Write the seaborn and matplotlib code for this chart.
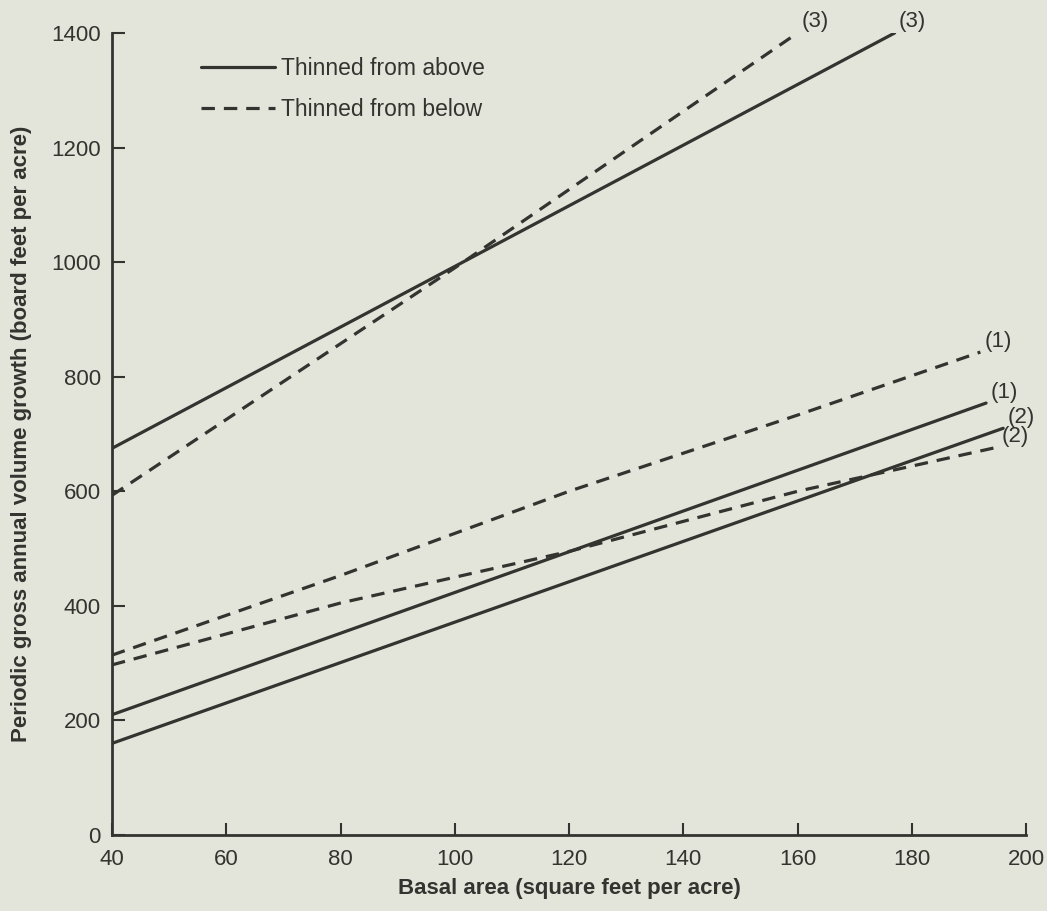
import pandas as pd
import matplotlib
matplotlib.use('Agg')
import matplotlib.pyplot as plt
import seaborn as sns
from matplotlib.lines import Line2D

# Values
above_x = {'(1)': [40, 193], '(2)': [40, 196], '(3)': [40, 177]}
above_y = {'(1)': [210, 754], '(2)': [160, 710], '(3)': [675, 1400]}
below_x = {'(1)': [40, 80, 120, 160, 192], '(2)': [40, 80, 120, 160, 195], '(3)': [40, 100, 160]}
below_y = {'(1)': [314, 453, 600, 733, 843], '(2)': [297, 405, 495, 600, 677], '(3)': [593, 990, 1400]}

x_ticks = [40, 60, 80, 100, 120, 140, 160, 180, 200]
y_ticks = [0, 200, 400, 600, 800, 1000, 1200, 1400]

bg = '#e4e5da'
ink = '#333330'
dash = (0, (4.2, 2.8))

sns.set_theme(style='ticks')
plt.rcParams['font.family'] = ['Liberation Sans', 'DejaVu Sans']

fig = plt.figure(figsize=(10.47, 9.11), dpi=100, facecolor=bg)
ax = fig.add_axes([0.107, 0.0834, 0.873, 0.8804])
ax.set_facecolor(bg)

for name in above_x:
    d = pd.DataFrame({'x': above_x[name], 'y': above_y[name]})
    sns.lineplot(data=d, x='x', y='y', ax=ax, color=ink, lw=2.3)
    ax.annotate(name, (d.x.iloc[-1], d.y.iloc[-1]), xytext=(3, 4),
                textcoords='offset points', fontsize=16, color=ink)

for name in below_x:
    d = pd.DataFrame({'x': below_x[name], 'y': below_y[name]})
    sns.lineplot(data=d, x='x', y='y', ax=ax, color=ink, lw=2.3,
                 linestyle=dash)
    ax.annotate(name, (d.x.iloc[-1], d.y.iloc[-1]), xytext=(3, 4),
                textcoords='offset points', fontsize=16, color=ink)

handles = [Line2D([], [], color=ink, lw=2.3),
           Line2D([], [], color=ink, lw=2.3, linestyle=dash)]
ax.legend(handles, ['Thinned from above', 'Thinned from below'],
          loc='upper left', bbox_to_anchor=(0.075, 0.996), frameon=False,
          fontsize=16.5, handlelength=3.2, handletextpad=0.3, labelspacing=0.8,
          labelcolor=ink)

ax.set_xlim(40, 200)
ax.set_ylim(0, 1400)
ax.set_xticks(x_ticks)
ax.set_yticks(y_ticks)
ax.tick_params(direction='in', length=9, width=1.5, colors=ink,
               labelsize=16, pad=8)
ax.tick_params(axis='x', pad=10)
sns.despine(ax=ax)
for s in ['left', 'bottom']:
    ax.spines[s].set_color(ink)
    ax.spines[s].set_linewidth(2)

ax.set_xlabel('Basal area (square feet per acre)', fontsize=16,
              fontweight='bold', color=ink, labelpad=6)
ax.set_ylabel('Periodic gross annual volume growth (board feet per acre)',
              fontsize=16, fontweight='bold', color=ink, labelpad=14)

fig.savefig('out.png', dpi=100, facecolor=bg)
